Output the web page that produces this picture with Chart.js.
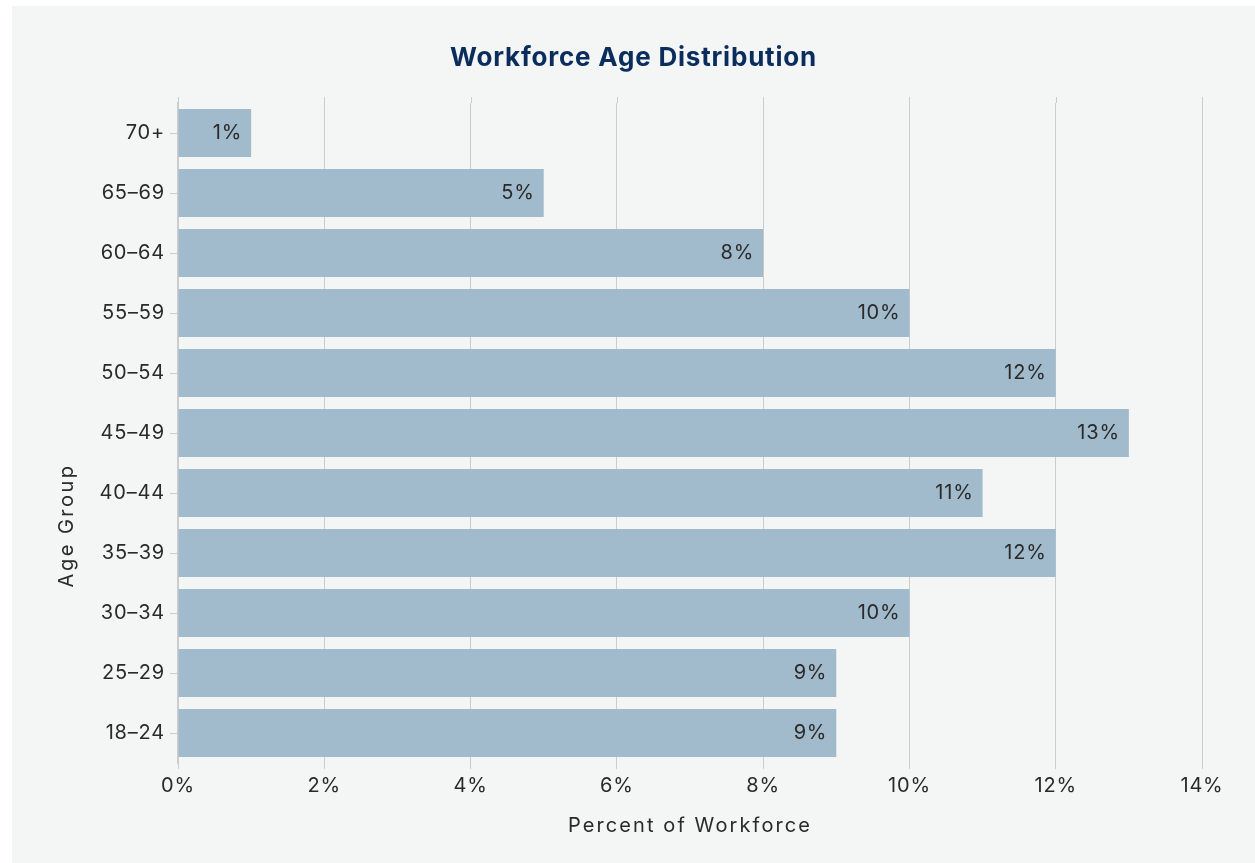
<!DOCTYPE html>
<html>
<head>
<meta charset="utf-8">
<title>Workforce Age Distribution</title>
<script src="https://cdn.jsdelivr.net/npm/chart.js@4"></script>
<style>
  html, body { margin: 0; padding: 0; background: #ffffff; }
  #wrap {
    position: absolute;
    left: 12px;
    top: 6px;
    width: 1243px;
    height: 857px;
    background: #f4f5f5;
  }
</style>
</head>
<body>
<div id="wrap"><canvas id="ageChart"></canvas></div>
<script>
const ageGroups = ['70+', '65–69', '60–64', '55–59', '50–54', '45–49', '40–44', '35–39', '30–34', '25–29', '18–24'];
const shares = [1, 5, 8, 10, 12, 13, 11, 12, 10, 9, 9];
const xTicks = [0, 2, 4, 6, 8, 10, 12, 14];

const fontFamily = 'Inter, "Noto Sans", sans-serif';
const textColor = '#2a2a2a';
const gridColor = '#cccccc';
const baseSpacing = '0.8px';

// Buchstabenabstand für alle Texte des Canvas
const spacing = {
    id: 'spacing',
    beforeUpdate(chart) { chart.ctx.letterSpacing = baseSpacing; },
    beforeDraw(chart) { chart.ctx.letterSpacing = baseSpacing; }
};

// Werte innerhalb der Balken, rechtsbündig
const barLabels = {
    id: 'barLabels',
    afterDatasetsDraw(chart) {
        const ctx = chart.ctx;
        const meta = chart.getDatasetMeta(0);
        ctx.save();
        ctx.font = '20px ' + fontFamily;
        ctx.fillStyle = textColor;
        ctx.textAlign = 'right';
        ctx.textBaseline = 'middle';
        meta.data.forEach((bar, i) => {
            ctx.fillText(shares[i] + '%', bar.x - 9, bar.y);
        });
        ctx.restore();
    }
};

// Titel, Achsentitel und Gitterlinien etwas über den Plotbereich hinaus
const extras = {
    id: 'extras',
    afterDraw(chart) {
        const ctx = chart.ctx;
        const area = chart.chartArea;
        const xScale = chart.scales.x;
        ctx.save();
        ctx.strokeStyle = gridColor;
        ctx.lineWidth = 1;
        xScale.ticks.forEach(t => {
            const px = Math.round(xScale.getPixelForValue(t.value)) + 0.5;
            ctx.beginPath();
            ctx.moveTo(px, area.top - 6);
            ctx.lineTo(px, area.top);
            ctx.stroke();
        });
        ctx.textAlign = 'center';
        ctx.textBaseline = 'middle';

        ctx.font = 'bold 26px ' + fontFamily;
        ctx.fillStyle = '#0b2d5e';
        ctx.letterSpacing = '0.8px';
        ctx.fillText('Workforce Age Distribution', chart.width / 2, 52);

        ctx.font = '20px ' + fontFamily;
        ctx.fillStyle = textColor;
        ctx.letterSpacing = '2.1px';
        ctx.fillText('Percent of Workforce', (area.left + area.right) / 2, 820);
        ctx.translate(55, area.top + (area.bottom - area.top) * 0.640);
        ctx.rotate(-Math.PI / 2);
        ctx.letterSpacing = '2.5px';
        ctx.fillText('Age Group', 0, 0);
        ctx.restore();
    }
};

const ctx = document.getElementById('ageChart').getContext('2d');
const ageChart = new Chart(ctx, {
    type: 'bar',
    data: {
        labels: ageGroups,
        datasets: [{
            label: 'Percent of Workforce',
            data: shares,
            backgroundColor: '#a1bacc',
            borderWidth: 0,
            barPercentage: 0.8,
            categoryPercentage: 1
        }]
    },
    options: {
        indexAxis: 'y',
        responsive: true,
        maintainAspectRatio: false,
        animation: false,
        layout: {
            padding: { left: 0, right: 53, top: 97, bottom: 0 }
        },
        scales: {
            x: {
                min: 0,
                max: 14,
                afterFit(scale) { scale.height = 100; },
                afterBuildTicks(scale) {
                    scale.ticks = xTicks.map(v => ({ value: v }));
                },
                grid: {
                    color: gridColor,
                    lineWidth: 1,
                    tickLength: 6
                },
                border: { display: false },
                ticks: {
                    padding: 5,
                    color: textColor,
                    font: { family: fontFamily, size: 20 },
                    callback: v => v + '%'
                }
            },
            y: {
                afterFit(scale) { scale.width = 166; },
                grid: {
                    offset: false,
                    drawOnChartArea: false,
                    color: gridColor,
                    tickLength: 8
                },
                border: { display: true, color: gridColor, width: 2 },
                ticks: {
                    padding: 5,
                    color: textColor,
                    font: { family: fontFamily, size: 20 }
                }
            }
        },
        plugins: {
            legend: { display: false },
            tooltip: { enabled: false },
            title: { display: false }
        }
    },
    plugins: [spacing, barLabels, extras]
});
</script>
</body>
</html>
